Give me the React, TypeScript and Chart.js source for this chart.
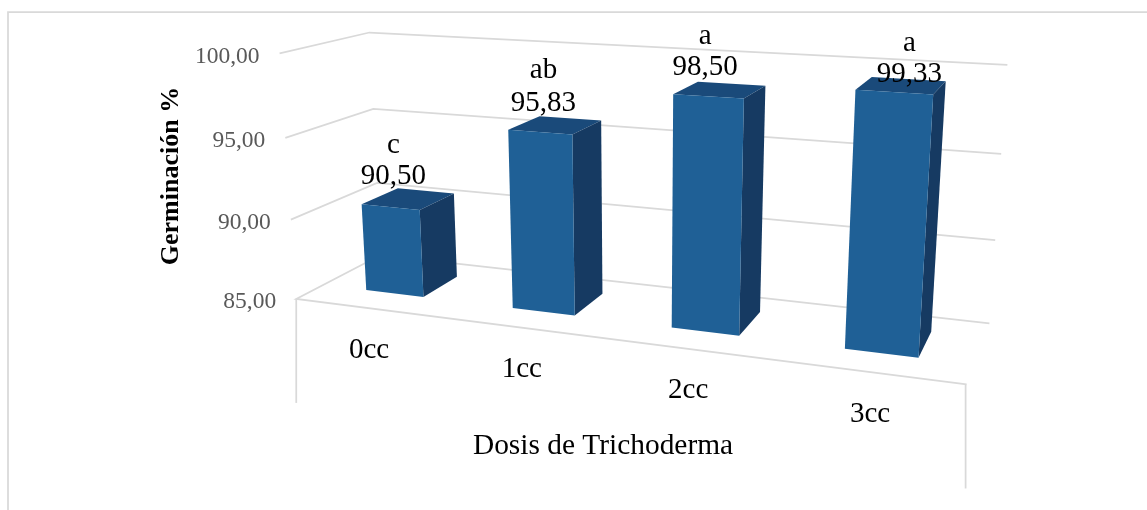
import React, { useEffect, useRef } from "react";
import { Chart, registerables } from "chart.js";

Chart.register(...registerables);

const categories = ["0cc", "1cc", "2cc", "3cc"];
const germination = [90.5, 95.83, 98.5, 99.33];
const significance = ["c", "ab", "a", "a"];
const valueTicks = [85, 90, 95, 100];
const yAxisTitle = "Germinación %";
const xAxisTitle = "Dosis de Trichoderma";

const SERIF = '"Liberation Serif", "Times New Roman", serif';
const fmt = (v: number) => v.toFixed(2).replace(".", ",");

// Camera calibration: box corner (u, v, w) -> picture position
const calib: number[][] = [
  [0, 0, 0, 297, 299],
  [0, 1, 0, 279, 54],
  [0, 0, 1, 380, 255],
  [0, 1, 1, 370, 32],
  [1, 0, 1, 990, 323],
  [1, 1, 1, 1007, 66],
  [1, 0, 0, 966, 385],
  [1, 1, 0, 986, 93],
];

function solveCamera(pts: number[][]) {
  const n = 11;
  const A: number[][] = Array.from({ length: n }, () => new Array(n + 1).fill(0));
  const add = (row: number[], rhs: number) => {
    for (let i = 0; i < n; i++) {
      for (let j = 0; j < n; j++) A[i][j] += row[i] * row[j];
      A[i][n] += row[i] * rhs;
    }
  };
  pts.forEach(([u, v, w, x, y]) => {
    add([u, v, w, 1, 0, 0, 0, 0, -x * u, -x * v, -x * w], x);
    add([0, 0, 0, 0, u, v, w, 1, -y * u, -y * v, -y * w], y);
  });
  for (let c = 0; c < n; c++) {
    let p = c;
    for (let r = c + 1; r < n; r++) if (Math.abs(A[r][c]) > Math.abs(A[p][c])) p = r;
    [A[c], A[p]] = [A[p], A[c]];
    for (let r = 0; r < n; r++) {
      if (r === c) continue;
      const f = A[r][c] / A[c][c];
      for (let k = c; k <= n; k++) A[r][k] -= f * A[c][k];
    }
  }
  return A.map((row, i) => row[n] / row[i]);
}
const cam = solveCamera(calib);
const project = (u: number, v: number, w: number): [number, number] => {
  const d = cam[8] * u + cam[9] * v + cam[10] * w + 1;
  return [
    (cam[0] * u + cam[1] * v + cam[2] * w + cam[3]) / d,
    (cam[4] * u + cam[5] * v + cam[6] * w + cam[7]) / d,
  ];
};

const GRID = "#D9D9D9";
const FRONT = "#1F6096";
const TOP = "#1A4A7A";
const SIDE = "#163A62";
const W0 = 0.3;
const W1 = 0.74;
const BAR_SHIFT = 0.002;
const labelDx = [-15, -12, -15, 8];
const labelDy = [-22, -22, -22.5, -11];
const letterGap = [31, 33, 31, 31];

const perspective3D = {
  id: "perspective3D",
  beforeDatasetDraw(chart: any) {
    const { ctx, chartArea: a, scales } = chart;
    const yS = scales.y;
    const U = (px: number) => (px - a.left) / (a.right - a.left);
    const V = (py: number) => (a.bottom - py) / (a.bottom - a.top);
    const poly = (pts: [number, number][], fill: string) => {
      ctx.beginPath();
      pts.forEach((p, i) => (i ? ctx.lineTo(p[0], p[1]) : ctx.moveTo(p[0], p[1])));
      ctx.closePath();
      ctx.fillStyle = fill;
      ctx.fill();
    };
    const line = (pts: [number, number][]) => {
      ctx.beginPath();
      pts.forEach((p, i) => (i ? ctx.lineTo(p[0], p[1]) : ctx.moveTo(p[0], p[1])));
      ctx.stroke();
    };

    ctx.save();
    // chart outline
    ctx.strokeStyle = GRID;
    ctx.lineWidth = 1.75;
    line([[8, 510], [8, 12], [1147, 12]]);

    // walls and gridlines
    yS.ticks.forEach((t: any) => {
      const v = V(yS.getPixelForValue(t.value));
      if (v === 0) return;
      line([project(0, v, 0), project(0, v, 1), project(1, v, 1)]);
    });
    line([project(0, 0, 1), project(1, 0, 1)]);
    const fl = project(0, 0, 0);
    const fr = project(1, 0, 0);
    line([project(0, 0, 1), fl, fr]);
    line([fl, [fl[0], fl[1] + 104]]);
    line([[fr[0] - 1, fr[1]], [fr[0] - 1, fr[1] + 104]]);

    // bars, from the library's own bar elements
    const meta = chart.getDatasetMeta(0);
    meta.data.forEach((el: any) => {
      const half = el.width / 2;
      const u0 = U(el.x - half) + BAR_SHIFT;
      const u1 = U(el.x + half) + BAR_SHIFT;
      const vT = V(el.y);
      const vB = V(el.base);
      poly([project(u0, vT, W0), project(u1, vT, W0), project(u1, vT, W1), project(u0, vT, W1)], TOP);
      poly([project(u1, vT, W0), project(u1, vT, W1), project(u1, vB, W1), project(u1, vB, W0)], SIDE);
      poly([project(u0, vT, W0), project(u1, vT, W0), project(u1, vB, W0), project(u0, vB, W0)], FRONT);
    });
    ctx.restore();
    return false;
  },
  afterDatasetsDraw(chart: any) {
    const { ctx, chartArea: a, scales } = chart;
    const yS = scales.y;
    const V = (py: number) => (a.bottom - py) / (a.bottom - a.top);
    const U = (px: number) => (px - a.left) / (a.right - a.left);
    ctx.save();
    ctx.textBaseline = "middle";

    // value ticks, along the front left edge
    ctx.font = `23.5px ${SERIF}`;
    ctx.fillStyle = "#595959";
    ctx.textAlign = "right";
    yS.ticks.forEach((t: any) => {
      const p = project(0, V(yS.getPixelForValue(t.value)), 0);
      ctx.fillText(fmt(t.value), p[0] - 20, p[1] + 3);
    });

    // categories and data labels
    ctx.fillStyle = "#000";
    ctx.textAlign = "center";
    ctx.font = `29px ${SERIF}`;
    const meta = chart.getDatasetMeta(0);
    meta.data.forEach((el: any, i: number) => {
      const u = U(el.x);
      const vT = V(el.y);
      const f = project(u, 0, 0);
      ctx.fillText(categories[i], f[0] + 1, f[1] + 42);
      const top = project(u + BAR_SHIFT, vT, (W0 + W1) / 2);
      const lx = top[0] + labelDx[i];
      const ly = top[1] + labelDy[i];
      ctx.fillText(fmt(germination[i]), lx, ly);
      ctx.fillText(significance[i], lx, ly - letterGap[i]);
    });

    ctx.font = `29.4px ${SERIF}`;
    ctx.fillText(xAxisTitle, 603, 446);
    ctx.translate(171, 176);
    ctx.rotate(-Math.PI / 2);
    ctx.font = `bold 26px ${SERIF}`;
    ctx.fillText(yAxisTitle, 0, 0);
    ctx.restore();
  },
};

export default function App() {
  const ref = useRef<HTMLCanvasElement>(null);
  useEffect(() => {
    const chart = new Chart(ref.current!, {
      type: "bar",
      data: {
        labels: categories,
        datasets: [
          {
            label: "Germinación %",
            data: germination,
            base: valueTicks[0],
            backgroundColor: FRONT,
            barPercentage: 0.4,
            categoryPercentage: 1,
          },
        ],
      },
      options: {
        animation: false,
        responsive: false,
        devicePixelRatio: 1,
        layout: { padding: 0 },
        plugins: { legend: { display: false }, tooltip: { enabled: false } },
        scales: {
          x: { display: false, type: "category" },
          y: {
            display: false,
            min: valueTicks[0],
            max: valueTicks[valueTicks.length - 1],
            ticks: { stepSize: 5 },
          },
        },
      },
      plugins: [perspective3D],
    });
    return () => chart.destroy();
  }, []);
  return (
    <div style={{ position: "absolute", left: 0, top: 0, width: 1147, height: 510, background: "#fff" }}>
      <canvas ref={ref} width={1147} height={510} style={{ display: "block" }} />
    </div>
  );
}
